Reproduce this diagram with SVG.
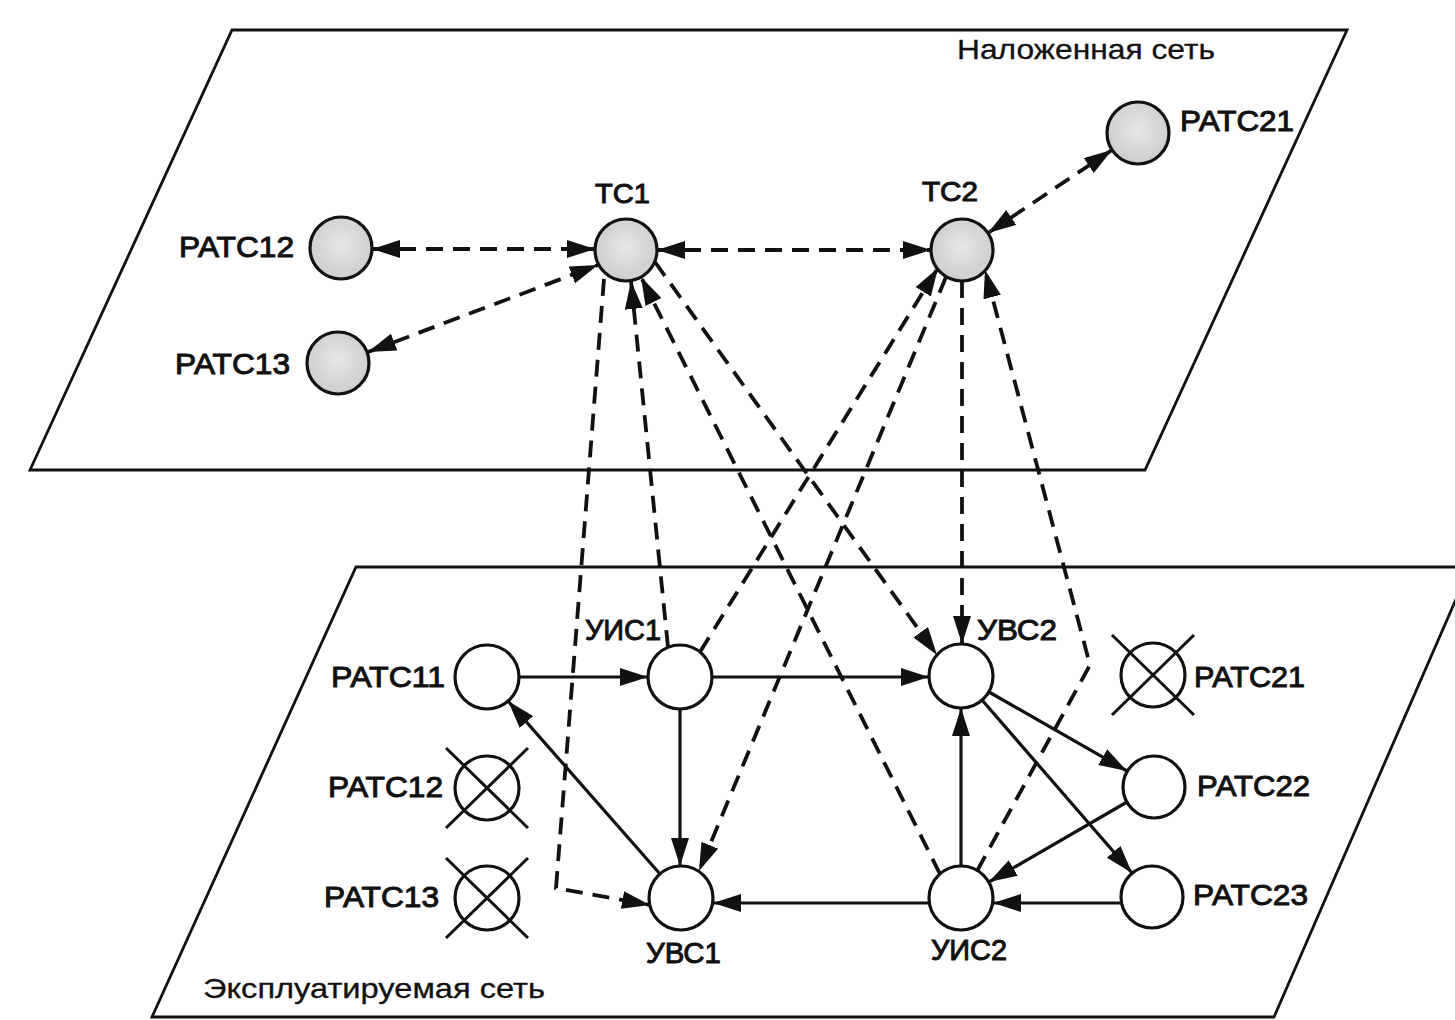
<svg xmlns="http://www.w3.org/2000/svg" width="1455" height="1020" viewBox="0 0 1455 1020">
<defs>
<style>
.plane{fill:none;stroke:#111;stroke-width:2.8;stroke-linejoin:miter}
.d{fill:none;stroke:#111;stroke-width:3.8;stroke-dasharray:17 10}
.s{fill:none;stroke:#111;stroke-width:3.2}
.gn{fill:url(#grey);stroke:#111;stroke-width:3.2}
.wn{fill:#fff;stroke:#111;stroke-width:3.2}
.x{stroke:#111;stroke-width:3;fill:none}
.lbl{font-family:"Liberation Sans",Arial,sans-serif;font-size:30px;fill:#111;stroke:#111;stroke-width:1}
.tc{font-size:28px}
.cap{font-family:"Liberation Sans",Arial,sans-serif;font-size:28px;fill:#111;stroke:#111;stroke-width:0.3}
</style>
<radialGradient id="grey" cx="0.5" cy="0.45" r="0.6">
<stop offset="0" stop-color="#e6e6e6"/>
<stop offset="1" stop-color="#cbcbcb"/>
</radialGradient>
<marker id="ae" viewBox="0 0 28 18" refX="28" refY="9" markerWidth="28" markerHeight="18" markerUnits="userSpaceOnUse" orient="auto">
<path d="M0,0 L28,9 L0,18 z" fill="#111"/>
</marker>
<marker id="as" viewBox="0 0 28 18" refX="0" refY="9" markerWidth="28" markerHeight="18" markerUnits="userSpaceOnUse" orient="auto">
<path d="M28,0 L0,9 L28,18 z" fill="#111"/>
</marker>
</defs>
<rect x="0" y="0" width="1455" height="1020" fill="#fff"/>

<g id="planes">
<polygon id="overlay-plane" class="plane" points="232,30 1347,30 1145,470 30,470"/>
<polygon id="operated-plane" class="plane" points="356,567 1470,567 1274,1017 152,1017"/>
<text class="cap" x="957" y="59" textLength="258" lengthAdjust="spacingAndGlyphs">Наложенная сеть</text>
<text class="cap" x="203" y="998" textLength="342" lengthAdjust="spacingAndGlyphs">Эксплуатируемая сеть</text>
</g>

<g id="connectors">
<path class="d" d="M372,249 L595,249" marker-start="url(#as)" marker-end="url(#ae)"/>
<path class="d" d="M368,352 L598,265" marker-start="url(#as)" marker-end="url(#ae)"/>
<path class="d" d="M657,250 L931,250" marker-start="url(#as)" marker-end="url(#ae)"/>
<path class="d" d="M988,233 L1112,150" marker-start="url(#as)" marker-end="url(#ae)"/>
<path class="d" d="M604,279 L556,888 L650,905" marker-end="url(#ae)"/>
<path class="d" d="M668,647 L631,281" marker-end="url(#ae)"/>
<path class="d" d="M940,874 L641,277" marker-end="url(#ae)"/>
<path class="d" d="M655,262 L937,655" marker-end="url(#ae)"/>
<path class="d" d="M700,652 L938,268" marker-end="url(#ae)"/>
<path class="d" d="M946,277 L699,871" marker-end="url(#ae)"/>
<path class="d" d="M962,281 L962,644" marker-end="url(#ae)"/>
<path class="d" d="M977,871 L1090,665 L985,270" marker-end="url(#ae)"/>

<path class="s" d="M519,677 L648,677" marker-end="url(#ae)"/>
<path class="s" d="M712,677 L929,677" marker-end="url(#ae)"/>
<path class="s" d="M680,709 L680,866" marker-end="url(#ae)"/>
<path class="s" d="M660,874 L508,701" marker-end="url(#ae)"/>
<path class="s" d="M929,903 L713,903" marker-end="url(#ae)"/>
<path class="s" d="M961,866 L961,708" marker-end="url(#ae)"/>
<path class="s" d="M989,692 L1127,771" marker-end="url(#ae)"/>
<path class="s" d="M982,700 L1132,873" marker-end="url(#ae)"/>
<path class="s" d="M1127,802 L989,882" marker-end="url(#ae)"/>
<path class="s" d="M1121,903 L993,903" marker-end="url(#ae)"/>
</g>

<g id="tc1"><circle class="gn" cx="626" cy="250" r="31"/><text class="lbl tc" x="595" y="203" textLength="55" lengthAdjust="spacingAndGlyphs">ТС1</text></g>
<g id="tc2"><circle class="gn" cx="962" cy="250" r="31"/><text class="lbl tc" x="922" y="201" textLength="56" lengthAdjust="spacingAndGlyphs">ТС2</text></g>
<g id="ratc12-top"><circle class="gn" cx="341" cy="248" r="31"/><text class="lbl" x="179" y="257" textLength="115" lengthAdjust="spacingAndGlyphs">РАТС12</text></g>
<g id="ratc13-top"><circle class="gn" cx="338" cy="363" r="31"/><text class="lbl" x="175" y="374" textLength="115" lengthAdjust="spacingAndGlyphs">РАТС13</text></g>
<g id="ratc21-top"><circle class="gn" cx="1138" cy="133" r="31"/><text class="lbl" x="1180" y="131" textLength="114" lengthAdjust="spacingAndGlyphs">РАТС21</text></g>

<g id="ratc11"><circle class="wn" cx="487" cy="677" r="32"/><text class="lbl" x="331" y="687" textLength="114" lengthAdjust="spacingAndGlyphs">РАТС11</text></g>
<g id="uis1"><circle class="wn" cx="680" cy="677" r="32"/><text class="lbl" x="585" y="640" textLength="76" lengthAdjust="spacingAndGlyphs">УИС1</text></g>
<g id="uvs2"><circle class="wn" cx="961" cy="676" r="32"/><text class="lbl" x="977" y="640" textLength="80" lengthAdjust="spacingAndGlyphs">УВС2</text></g>
<g id="ratc21-bottom"><circle class="wn" cx="1153" cy="675" r="32"/><path class="x" d="M1112,635 L1194,715 M1194,635 L1112,715"/><text class="lbl" x="1194" y="687" textLength="111" lengthAdjust="spacingAndGlyphs">РАТС21</text></g>
<g id="ratc12-bottom"><circle class="wn" cx="487" cy="788" r="32"/><path class="x" d="M446,748 L528,828 M528,748 L446,828"/><text class="lbl" x="328" y="797" textLength="115" lengthAdjust="spacingAndGlyphs">РАТС12</text></g>
<g id="ratc22"><circle class="wn" cx="1154" cy="787" r="31"/><text class="lbl" x="1197" y="796" textLength="113" lengthAdjust="spacingAndGlyphs">РАТС22</text></g>
<g id="ratc13-bottom"><circle class="wn" cx="487" cy="898" r="32"/><path class="x" d="M446,858 L528,938 M528,858 L446,938"/><text class="lbl" x="324" y="907" textLength="115" lengthAdjust="spacingAndGlyphs">РАТС13</text></g>
<g id="uvs1"><circle class="wn" cx="681" cy="898" r="32"/><text class="lbl" x="646" y="963" textLength="75" lengthAdjust="spacingAndGlyphs">УВС1</text></g>
<g id="uis2"><circle class="wn" cx="961" cy="898" r="32"/><text class="lbl" x="931" y="960" textLength="76" lengthAdjust="spacingAndGlyphs">УИС2</text></g>
<g id="ratc23"><circle class="wn" cx="1152" cy="897" r="31"/><text class="lbl" x="1193" y="905" textLength="115" lengthAdjust="spacingAndGlyphs">РАТС23</text></g>
</svg>
